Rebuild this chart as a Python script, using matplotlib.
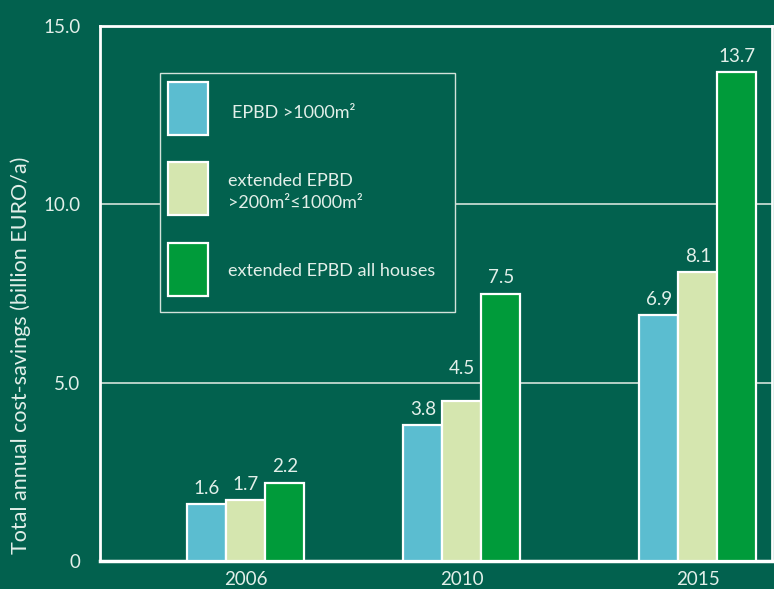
import matplotlib
matplotlib.use("Agg")
import matplotlib.pyplot as plt
from matplotlib.patches import Rectangle

plt.rcParams['font.family'] = ['Lato', 'DejaVu Sans']

years = ["2006", "2010", "2015"]
series = ["EPBD >1000m²", "extended EPBD\n>200m²≤1000m²", "extended EPBD all houses"]
epbd_1000 = [1.6, 3.8, 6.9]
ext_200_1000 = [1.7, 4.5, 8.1]
ext_all = [2.2, 7.5, 13.7]
yticks = [0, 5, 10, 15]
ytick_labels = ["0", "5.0", "10.0", "15.0"]

bg = "#02614e"
txt = "#e2efe9"
grid_c = "#d3e2da"
colors = ["#5bbdd0", "#d5e6af", "#009b3a"]

W, H = 774, 589
fig = plt.figure(figsize=(W / 100, H / 100), dpi=100, facecolor=bg)

def fx(px):
    return px / W

def fy(py):
    return 1 - py / H

ax = fig.add_axes([fx(100), fy(561), fx(672), 535 / H], facecolor=bg)

# layout: group centres on a pixel-like x scale
centres = [146, 362, 598]
bw = 39
ax.set_xlim(0, 672)
ax.set_ylim(0, 15)

grid_vals = [5, 10]
for i, vals in enumerate([epbd_1000, ext_200_1000, ext_all]):
    xs = [c + (i - 1) * bw for c in centres]
    ax.bar(xs, vals, width=bw, color=colors[i], edgecolor="white",
           linewidth=1.6, zorder=3)
    for x, v in zip(xs, vals):
        ly = v + 0.2
        # labels that would sit on a grid line are lifted above it
        for g in grid_vals:
            if v < g < v + 0.7:
                ly = g + 0.15
        ax.text(x, ly, f"{v:.1f}", ha="center", va="bottom",
                color=txt, fontsize=13.5, zorder=4)

for y in grid_vals:
    ax.axhline(y, color=grid_c, lw=1.2, zorder=1)

ax.set_yticks(yticks)
ax.set_yticklabels(ytick_labels)
ax.set_xticks(centres)
ax.set_xticklabels(years)
ax.tick_params(axis="both", length=0, colors=txt, labelsize=13.5)
ax.tick_params(axis="y", pad=14)
ax.tick_params(axis="x", pad=7)
for s in ax.spines.values():
    s.set_color("white")
    s.set_linewidth(2)
ax.spines["bottom"].set_linewidth(2.5)

fig.text(fx(21), fy(355), "Total annual cost-savings (billion EURO/a)",
         rotation=90, ha="center", va="center", color=txt, fontsize=15.5)

# legend box
fig.patches.append(Rectangle((fx(160), fy(312)), fx(295), 239 / H,
                             transform=fig.transFigure, facecolor=bg,
                             edgecolor=grid_c, lw=1.0, zorder=5))
patch_tops = [82, 162, 243]
text_y = [113, 192, 271]
text_x = [232, 228, 228]
for i in range(3):
    fig.patches.append(Rectangle((fx(168), fy(patch_tops[i] + 53)), fx(40), 53 / H,
                                 transform=fig.transFigure, facecolor=colors[i],
                                 edgecolor="white", lw=1.6, zorder=6))
    fig.text(fx(text_x[i]), fy(text_y[i]), series[i], ha="left", va="center",
             color=txt, fontsize=13, linespacing=1.4, zorder=7)

fig.savefig("out.png", dpi=100, facecolor=bg)
